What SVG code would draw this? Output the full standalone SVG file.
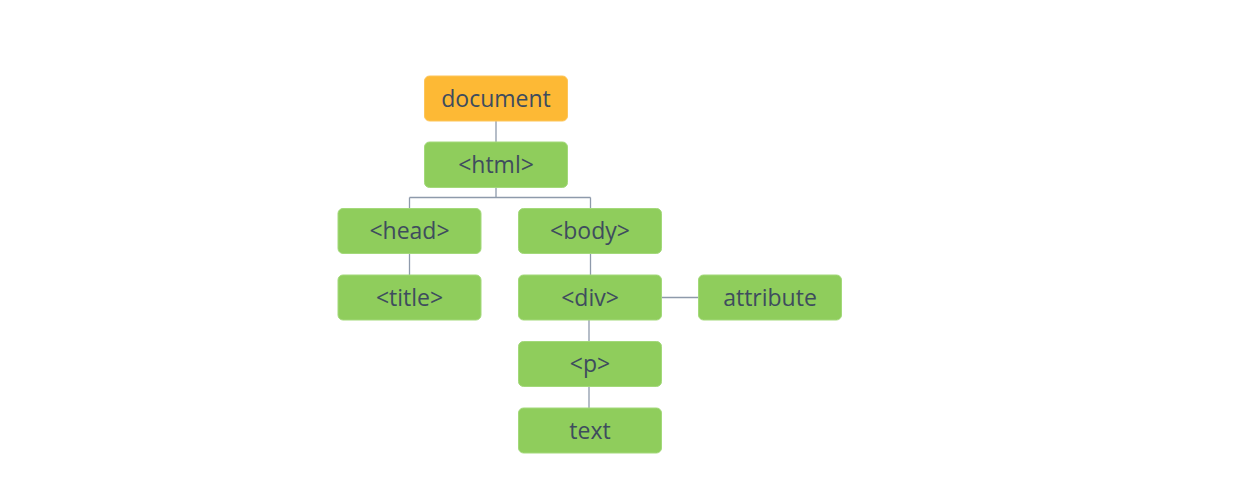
<svg xmlns="http://www.w3.org/2000/svg" width="1236" height="484" viewBox="0 0 1236 484">
<style>
.n rect{fill:#8fcd5c;stroke:#a3d97a;stroke-width:1}
.n.root rect{fill:#fdb935;stroke:#fdc55a}
.n text{font-family:"Open Sans","Liberation Sans",sans-serif;font-size:23px;fill:#3e4c5e;text-anchor:middle}
#connectors path{fill:none;stroke:#8e9aab;stroke-width:1.3}
</style>
<rect width="1236" height="484" fill="#ffffff"/>
<g id="connectors">
<path d="M496 121V142"/>
<path d="M496 187.5V197.5M409.5 197.5H590.5M409.5 197.5V208.5M590.5 197.5V208.5"/>
<path d="M409.5 253.5V275"/>
<path d="M590.5 253.5V275"/>
<path d="M661 297.5H698.5"/>
<path d="M589 320V341.5"/>
<path d="M589 386.5V408"/>
</g>
<g id="document" class="n root"><rect x="424.5" y="76" width="143" height="45" rx="5"/><text x="496" y="106.5">document</text></g>
<g id="html" class="n"><rect x="424.5" y="142" width="143" height="45.5" rx="5"/><text x="496" y="172.5">&lt;html&gt;</text></g>
<g id="head" class="n"><rect x="338" y="208.5" width="143" height="45" rx="5"/><text x="409.5" y="239">&lt;head&gt;</text></g>
<g id="body" class="n"><rect x="518.5" y="208.5" width="143" height="45" rx="5"/><text x="590" y="239">&lt;body&gt;</text></g>
<g id="title" class="n"><rect x="338" y="275" width="143" height="45" rx="5"/><text x="409.5" y="305.5">&lt;title&gt;</text></g>
<g id="div" class="n"><rect x="518.5" y="275" width="143" height="45" rx="5"/><text x="590" y="305.5">&lt;div&gt;</text></g>
<g id="attribute" class="n"><rect x="698.5" y="275" width="143" height="45" rx="5"/><text x="770" y="305.5">attribute</text></g>
<g id="p" class="n"><rect x="518.5" y="341.5" width="143" height="45" rx="5"/><text x="590" y="372">&lt;p&gt;</text></g>
<g id="text" class="n"><rect x="518.5" y="408" width="143" height="45" rx="5"/><text x="590" y="438.5">text</text></g>
</svg>
